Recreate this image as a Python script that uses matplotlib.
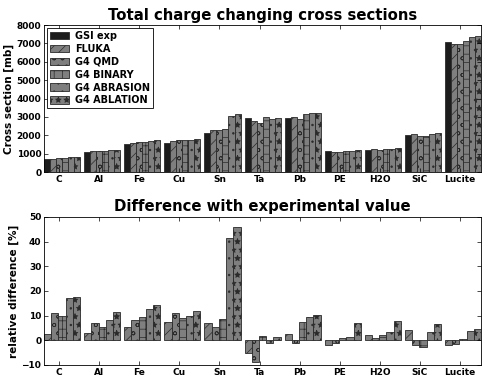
# Total charge changing cross sections + relative difference to GSI data

import matplotlib
matplotlib.use('Agg')
import matplotlib.pyplot as plt
import numpy as np

targets = ['C', 'Al', 'Fe', 'Cu', 'Sn', 'Ta', 'Pb', 'PE', 'H2O', 'SiC', 'Lucite']

# cross sections [mb]
gsi_exp     = [700, 1090, 1520, 1600, 2150, 2935, 2940, 1125, 1215, 2000, 7080]
fluka       = [719, 1124, 1604, 1718, 2298, 2785, 3008, 1105, 1238, 2086, 6953]
g4_qmd      = [778, 1165, 1645, 1774, 2266, 2677, 2908, 1113, 1224, 1962, 6974]
g4_binary   = [769, 1148, 1660, 1741, 2335, 2979, 3158, 1135, 1238, 1946, 7115]
g4_abrasion = [821, 1179, 1712, 1760, 3044, 2900, 3219, 1137, 1258, 2068, 7349]
g4_ablation = [823, 1216, 1736, 1792, 3141, 2967, 3243, 1204, 1310, 2128, 7406]

# relative difference [%]
diff_fluka    = [2.7, 3.1, 5.5, 7.4, 6.9, -5.1, 2.3, -1.8, 1.9, 4.3, -1.8]
diff_qmd      = [11.2, 6.9, 8.2, 10.9, 5.4, -8.8, -1.1, -1.1, 0.7, -1.9, -1.5]
diff_binary   = [9.8, 5.3, 9.2, 8.8, 8.6, 1.5, 7.4, 0.9, 1.9, -2.7, 0.5]
diff_abrasion = [17.3, 8.2, 12.6, 10.0, 41.6, -1.2, 9.5, 1.1, 3.5, 3.4, 3.8]
diff_ablation = [17.6, 11.6, 14.2, 12.0, 46.1, 1.1, 10.3, 7.0, 7.8, 6.4, 4.6]

labels = ['GSI exp', 'FLUKA', 'G4 QMD', 'G4 BINARY', 'G4 ABRASION', 'G4 ABLATION']
hatches = ['', '///', 'oo', '++', '..', '**']

plt.rcParams['font.family'] = 'DejaVu Sans'
plt.rcParams['font.weight'] = 'bold'
plt.rcParams['hatch.linewidth'] = 0.5
plt.rcParams['xtick.direction'] = 'in'
plt.rcParams['ytick.direction'] = 'in'

gray = '#7f7f7f'
edge = '#2a2a2a'
ind = np.arange(len(targets))

fig = plt.figure(figsize=(4.84, 3.80), dpi=100)
ax1 = fig.add_axes([0.091, 0.547, 0.903, 0.387])
ax2 = fig.add_axes([0.091, 0.040, 0.903, 0.389])

# ===== top: cross sections =====
w1 = 0.15
series = [gsi_exp, fluka, g4_qmd, g4_binary, g4_abrasion, g4_ablation]
for k, vals in enumerate(series):
    fc = '#1c1c1c' if k == 0 else gray
    ax1.bar(ind + k * w1, vals, w1, align='edge', color=fc, edgecolor=edge,
            linewidth=0.6, hatch=hatches[k], label=labels[k])

ax1.set_xlim(0, len(targets) - 0.1)
ax1.set_ylim(0, 8000)
ax1.set_xticks(ind + 2.5 * w1)
ax1.set_xticklabels(targets, fontsize=6.5, fontweight='bold')
ax1.set_yticks(np.arange(0, 8001, 1000))
ax1.tick_params(labelsize=6.5, top=True, right=True, length=3, width=0.5, pad=2)
ax1.set_ylabel('Cross section [mb]', fontsize=7.5, fontweight='bold', labelpad=2)
ax1.set_title('Total charge changing cross sections', fontsize=10.7,
              fontweight='bold', pad=4)
leg = ax1.legend(loc='upper left', prop={'size': 7, 'weight': 'bold'},
                 fancybox=False, framealpha=1, edgecolor='black',
                 handlelength=2.0, handleheight=0.85, labelspacing=0.3,
                 handletextpad=0.6, borderaxespad=0.3, borderpad=0.3)
leg.get_frame().set_linewidth(0.6)

# ===== bottom: relative difference =====
w2 = 0.18
diffs = [diff_fluka, diff_qmd, diff_binary, diff_abrasion, diff_ablation]
for k, vals in enumerate(diffs):
    ax2.bar(ind + k * w2, vals, w2, align='edge', color=gray, edgecolor=edge,
            linewidth=0.6, hatch=hatches[k + 1])

ax2.set_xlim(0, len(targets) - 0.1)
ax2.set_ylim(-10, 50)
ax2.set_xticks(ind + 2.5 * w1)
ax2.set_xticklabels(targets, fontsize=6.5, fontweight='bold')
ax2.set_yticks(np.arange(-10, 51, 10))
ax2.tick_params(labelsize=6.5, top=True, right=True, length=3, width=0.5, pad=2)
ax2.set_ylabel('relative difference [%]', fontsize=7.5, fontweight='bold', labelpad=2)
ax2.set_title('Difference with experimental value', fontsize=10.7,
              fontweight='bold', pad=4)

for ax in (ax1, ax2):
    for s in ax.spines.values():
        s.set_linewidth(0.6)

fig.savefig('out.png', dpi=100)
